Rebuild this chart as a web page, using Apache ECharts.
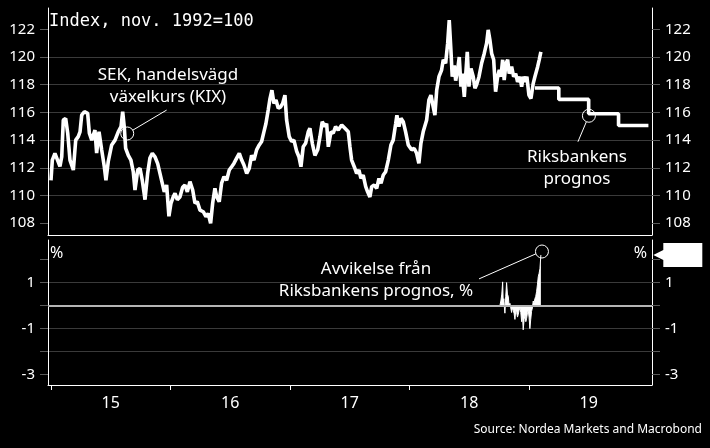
<!DOCTYPE html>
<html><head><meta charset="utf-8">
<script src="https://cdn.jsdelivr.net/npm/echarts@6/dist/echarts.min.js"></script>
<style>html,body{margin:0;padding:0;background:#000;}#c{width:710px;height:448px;}</style>
</head><body><div id="c"></div>
<script>
// KIX index, [decimal year, value]
const kix = [
[2015.000,111.1],[2015.011,112.56],[2015.033,113.05],[2015.075,112.1],[2015.090,112.8],[2015.103,115.45],[2015.123,115.57],[2015.140,114.5],[2015.159,112.56],[2015.187,111.84],
[2015.207,114.0],[2015.228,114.25],[2015.243,114.6],[2015.257,115.8],[2015.279,116.05],[2015.307,115.93],[2015.321,114.5],[2015.341,114.0],[2015.368,114.73],[2015.382,113.07],
[2015.402,114.6],[2015.424,113.3],[2015.446,112.1],[2015.460,111.1],[2015.479,112.44],[2015.508,113.65],[2015.536,114.0],[2015.563,114.6],[2015.586,114.97],[2015.600,116.05],
[2015.613,114.97],[2015.625,113.4],[2015.647,112.9],[2015.669,112.56],[2015.689,111.7],[2015.703,110.4],[2015.726,111.84],[2015.745,111.96],[2015.764,111.1],[2015.787,109.7],
[2015.809,111.6],[2015.828,112.7],[2015.848,113.05],[2015.870,112.8],[2015.893,112.3],[2015.912,111.6],[2015.931,110.9],[2015.948,110.27],[2015.968,110.76],[2015.987,108.5],
[2016.004,109.44],[2016.023,109.9],
[2016.038,110.16],[2016.057,109.7],[2016.079,109.9],[2016.102,110.6],[2016.121,110.76],[2016.141,110.27],[2016.163,111.0],[2016.186,110.4],[2016.205,109.44],[2016.224,109.56],
[2016.247,108.95],[2016.274,108.83],[2016.297,108.47],[2016.316,108.7],[2016.336,108.0],[2016.353,109.44],[2016.372,110.52],[2016.387,109.9],[2016.408,109.55],[2016.428,110.9],
[2016.448,111.36],[2016.470,111.1],[2016.492,111.84],[2016.512,112.08],[2016.531,112.32],[2016.554,112.7],[2016.576,113.05],[2016.596,112.56],[2016.615,112.2],[2016.638,111.6],
[2016.659,111.96],[2016.679,112.9],[2016.699,112.56],[2016.721,113.3],[2016.743,113.65],[2016.763,113.9],[2016.782,114.6],[2016.799,115.2],[2016.818,116.17],[2016.833,117.0],
[2016.849,117.6],[2016.866,116.65],[2016.883,116.9],[2016.902,116.3],[2016.922,116.4],[2016.939,116.65],[2016.958,117.25],[2016.972,115.45],[2016.994,114.25],[2017.014,113.9],
[2017.033,114.0],[2017.056,113.2],[2017.075,112.8],[2017.092,112.08],[2017.111,113.52],[2017.131,113.77],[2017.153,114.6],[2017.167,114.85],[2017.187,113.77],[2017.209,112.9],
[2017.232,113.3],[2017.251,114.25],[2017.270,115.33],[2017.293,114.97],[2017.307,115.2],[2017.321,113.52],[2017.343,114.6],[2017.362,114.5],[2017.382,114.97],[2017.404,114.73],
[2017.433,115.09],[2017.460,114.85],[2017.488,114.6],[2017.502,113.52],[2017.516,112.56],[2017.538,112.08],[2017.558,111.6],[2017.577,111.84],[2017.594,111.24],[2017.613,111.48],
[2017.634,110.64],[2017.650,110.27],[2017.669,109.9],[2017.684,110.64],[2017.705,110.76],[2017.726,110.52],[2017.745,111.24],[2017.762,110.88],[2017.781,111.48],[2017.801,111.72],
[2017.823,112.56],[2017.845,113.65],[2017.864,114.0],[2017.885,115.2],[2017.895,115.8],[2017.912,114.97],[2017.929,115.57],[2017.948,115.33],[2017.968,114.6],[2017.990,113.65],
[2018.018,113.3],[2018.040,113.4],[2018.060,113.05],[2018.079,112.32],[2018.096,113.77],[2018.115,114.6],[2018.144,115.45],[2018.163,116.9],[2018.180,117.25],[2018.199,116.4],
[2018.213,115.8],[2018.228,117.6],[2018.247,118.58],[2018.269,119.06],[2018.283,119.8],[2018.303,119.55],[2018.320,121.0],[2018.333,122.67],[2018.347,120.5],[2018.358,118.58],
[2018.375,119.4],[2018.387,118.3],[2018.403,119.06],[2018.417,120.0],[2018.431,117.86],[2018.442,118.8],[2018.459,117.13],[2018.470,118.58],[2018.484,120.38],[2018.498,117.86],
[2018.515,119.18],[2018.534,118.58],[2018.548,117.74],[2018.562,118.0],[2018.582,118.58],[2018.604,119.55],[2018.626,120.26],[2018.646,121.0],[2018.659,121.96],[2018.674,121.2],
[2018.688,120.26],[2018.705,119.8],[2018.721,117.5],[2018.738,118.58],[2018.752,119.06],[2018.766,118.58],[2018.780,119.8],[2018.793,118.34],[2018.808,119.55],[2018.822,119.8],
[2018.835,118.8],[2018.855,119.3],[2018.872,118.58],[2018.889,118.8],[2018.905,118.2],[2018.925,118.58],[2018.939,117.86],[2018.952,118.58],[2018.967,118.2],[2018.983,118.58],
[2019.000,117.25],[2019.017,117.0],[2019.036,118.1],[2019.050,118.58],[2019.073,119.3],[2019.086,119.8],[2019.100,120.38]
];
// Riksbanken forecast (quarterly steps)
const forecastT = [2019.05, 2019.25, 2019.5, 2019.75, 2020.0];
const forecastV = [117.76, 116.94, 115.9, 115.06, 115.06];
// Deviation from Riksbanken forecast, %
const deviation = [
[2018.757,0],[2018.765,0.2],[2018.773,0.5],[2018.780,1.03],[2018.785,0.1],[2018.790,0.3],[2018.795,-0.1],[2018.799,-0.33],[2018.806,0.4],[2018.813,1.0],
[2018.820,0.5],[2018.827,0.4],[2018.834,0.0],[2018.841,0.1],[2018.848,-0.1],[2018.855,-0.3],[2018.862,-0.1],[2018.869,-0.2],[2018.876,-0.35],[2018.883,-0.6],
[2018.890,-0.2],[2018.897,-0.3],[2018.904,-0.5],[2018.910,-0.4],[2018.918,-0.2],[2018.925,-0.1],[2018.932,-0.3],[2018.939,-0.7],[2018.946,-0.4],[2018.952,-1.05],
[2018.960,-0.6],[2018.967,-0.4],[2018.974,-0.7],[2018.981,-0.55],[2018.988,-0.3],[2018.994,-0.2],[2019.001,-0.5],[2019.008,-1.0],[2019.015,-0.6],[2019.022,-0.25],
[2019.029,-0.1],[2019.036,0.2],[2019.043,0.1],[2019.050,0.3],[2019.057,0.4],[2019.064,0.6],[2019.071,0.9],[2019.078,1.25],[2019.085,1.4],[2019.092,1.6],[2019.100,2.2]
];
const yearTicks = [2015, 2016, 2017, 2018, 2019];
const yearLabelPos = [2015.5, 2016.5, 2017.5, 2018.5, 2019.5];
const topTicks = [108, 110, 112, 114, 116, 118, 120, 122];
const bottomTicks = [-3, -2, -1, 0, 1, 2];
const bottomLabels = [-3, -1, 1];

const FONT = "'Noto Sans', sans-serif";
const GRIDC = '#3a3a3a';
const TICKC = '#5a5a5a';
const XMIN = 2014.975, XMAX = 2020.03;

function xAx(gi, showLabels) {
  return {
    type: 'value', gridIndex: gi, min: XMIN, max: XMAX,
    axisLine: {show: true, onZero: false, lineStyle: {color: '#fff', width: 1}},
    axisTick: showLabels ? {show: true, customValues: yearTicks, length: 5, lineStyle: {color: '#fff'}} : {show: false},
    axisLabel: showLabels ? {show: true, customValues: yearLabelPos, formatter: v => String(Math.floor(v)).slice(2),
      color: '#fff', fontSize: 16, fontFamily: FONT, margin: 10} : {show: false},
    splitLine: {show: false}
  };
}
function yAx(gi, pos, min, max, split, ticks, labels, showSplit) {
  return {
    type: 'value', gridIndex: gi, position: pos, min: min, max: max, splitNumber: split,
    axisLine: {show: true, lineStyle: {color: '#fff', width: 1}},
    axisTick: {show: true, customValues: ticks, length: 8, lineStyle: {color: TICKC}},
    axisLabel: {show: true, customValues: labels, color: '#fff', fontSize: 15, fontFamily: FONT, margin: 13,
      formatter: v => String(v)},
    splitLine: {show: showSplit, showMinLine: false, showMaxLine: false, lineStyle: {color: GRIDC, width: 1}}
  };
}

const ring = (c) => ({coord: c, symbol: 'circle', symbolSize: 13,
  itemStyle: {color: 'rgba(0,0,0,0)', borderColor: '#fff', borderWidth: 1}});
const lastDev = deviation[deviation.length - 1][1];

const chart = echarts.init(document.getElementById('c'), null, {renderer: 'canvas'});
chart.setOption({
  animation: false,
  backgroundColor: '#000',
  grid: [
    {left: 48, right: 58, top: 8, height: 227},
    {left: 48, right: 58, top: 240, height: 145}
  ],
  xAxis: [xAx(0, false), xAx(1, true)],
  yAxis: [
    yAx(0, 'left', 107.15, 123.54, 8, topTicks, topTicks, true),
    yAx(0, 'right', 107.15, 123.54, 8, topTicks, topTicks, false),
    yAx(1, 'left', -3.45, 2.85, 6, bottomTicks, bottomLabels, true),
    yAx(1, 'right', -3.45, 2.85, 6, bottomTicks, bottomLabels, false)
  ],
  series: [
    {
      type: 'line', xAxisIndex: 0, yAxisIndex: 0, data: kix, showSymbol: false,
      lineStyle: {color: '#fff', width: 3.6}, z: 3,
      markPoint: {silent: true, label: {show: false}, data: [ring([2015.638, 114.48])]},
      markLine: {silent: true, symbol: 'none', label: {show: false}, lineStyle: {color: '#fff', width: 1, type: 'solid'},
        data: [[{coord: [2015.683, 114.71]}, {coord: [2015.968, 116.17]}]]}
    },
    {
      type: 'line', xAxisIndex: 0, yAxisIndex: 0, step: 'end', showSymbol: false,
      data: forecastT.map((t, i) => [t, forecastV[i]]),
      lineStyle: {color: '#fff', width: 3.6}, z: 3,
      markPoint: {silent: true, label: {show: false}, data: [ring([2019.502, 115.76])]},
      markLine: {silent: true, symbol: 'none', label: {show: false}, lineStyle: {color: '#fff', width: 1, type: 'solid'},
        data: [[{coord: [2019.481, 115.33]}, {coord: [2019.410, 113.88]}]]}
    },
    {
      type: 'line', xAxisIndex: 1, yAxisIndex: 2, data: deviation, showSymbol: false,
      lineStyle: {color: '#fff', width: 1}, areaStyle: {color: '#fff', opacity: 1}, z: 3,
      markPoint: {silent: true, label: {show: false}, data: [
        ring([2019.109, 2.35]),
        {coord: [2020.02, lastDev], symbol: 'path://M0,12L10,7L10,0L49,0L49,24L10,24L10,17Z',
          symbolSize: [49, 24], symbolOffset: [27, 0], itemStyle: {color: '#fff'}}
      ]},
      markLine: {silent: true, symbol: 'none', label: {show: false},
        data: [
          {yAxis: 0, lineStyle: {color: '#b4b4b4', width: 2, type: 'solid'}},
          [{coord: [2019.059, 2.25], lineStyle: {color: '#fff', width: 1, type: 'solid'}}, {coord: [2018.582, 1.16]}]
        ]}
    }
  ],
  graphic: {elements: [
    {type: 'text', x: 49, y: 13, style: {text: 'Index, nov. 1992=100', fill: '#fff', fontSize: 17,
      fontFamily: "'DejaVu Sans Mono', monospace", verticalAlign: 'top', align: 'left'}},
    {type: 'text', x: 168, y: 64, style: {text: 'SEK, handelsvägd\nväxelkurs (KIX)', fill: '#fff', fontSize: 17,
      fontFamily: FONT, align: 'center', verticalAlign: 'top', lineHeight: 22}},
    {type: 'text', x: 577, y: 146, style: {text: 'Riksbankens\nprognos', fill: '#fff', fontSize: 17,
      fontFamily: FONT, align: 'center', verticalAlign: 'top', lineHeight: 22}},
    {type: 'text', x: 376, y: 258, style: {text: 'Avvikelse från\nRiksbankens prognos, %', fill: '#fff', fontSize: 17,
      fontFamily: FONT, align: 'center', verticalAlign: 'top', lineHeight: 22}},
    {type: 'text', x: 50, y: 253, style: {text: '%', fill: '#fff', fontSize: 16, fontFamily: FONT, align: 'left', verticalAlign: 'middle'}},
    {type: 'text', x: 647, y: 253, style: {text: '%', fill: '#fff', fontSize: 16, fontFamily: FONT, align: 'right', verticalAlign: 'middle'}},
    {type: 'text', x: 702, y: 430, style: {text: 'Source: Nordea Markets and Macrobond', fill: '#fff', fontSize: 12,
      fontFamily: FONT, align: 'right', verticalAlign: 'middle'}}
  ]}
});
</script>
</body></html>
